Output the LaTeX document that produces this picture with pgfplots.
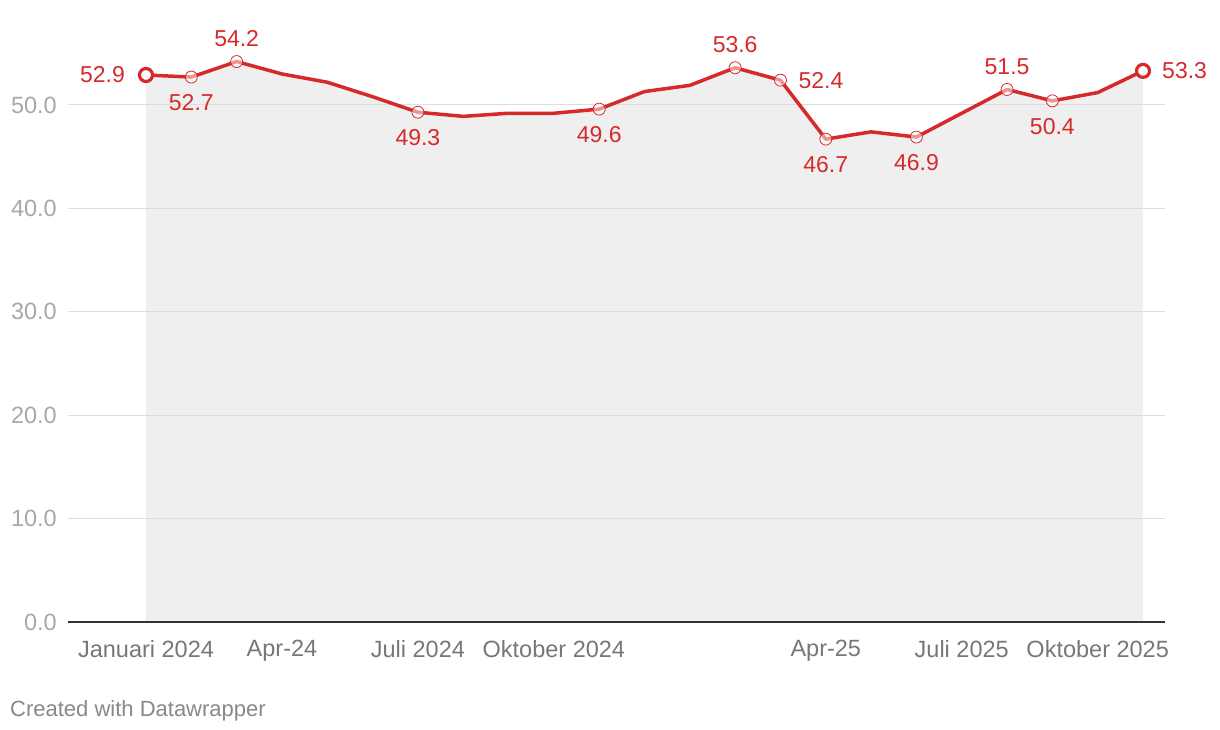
\documentclass[border=0pt]{standalone}
\usepackage{pgfplots}
\pgfplotsset{compat=1.18}
\usepackage{fontspec}
\setmainfont{Liberation Sans}

\definecolor{dwred}{RGB}{214,42,42}
\definecolor{dwfill}{HTML}{EFEFEF}
\definecolor{dwgrid}{HTML}{DDDDDD}
\definecolor{dwaxis}{HTML}{333333}
\definecolor{xlab}{HTML}{777777}
\definecolor{ylab}{HTML}{A8A8A8}
\definecolor{credit}{HTML}{888888}

\tikzset{lbl/.style={text=dwred, inner sep=0pt, font=\fontsize{23}{23}\selectfont}}

\begin{document}
\begin{tikzpicture}
\begin{axis}[
  set layers,
  at={(68pt,-622pt)}, anchor=south west,
  scale only axis,
  width=1097pt, height=589.4pt,
  xmin=-1.721, xmax=22.485,
  ymin=0, ymax=57,
  axis x line*=bottom, axis y line*=left,
  x axis line style={draw=dwaxis, line width=2pt},
  y axis line style={draw=none},
  major tick length=0pt,
  xtick={0,3,6,9,15,18,21},
  xticklabels={Januari 2024, Apr-24, Juli 2024, Oktober 2024, Apr-25, Juli 2025, Oktober 2025},
  ytick={0,10,20,30,40,50},
  ymajorgrids=true,
  grid style={draw=dwgrid, line width=1pt},
  /pgf/number format/assume math mode=true,
  y tick label style={/pgf/number format/fixed, /pgf/number format/fixed zerofill, /pgf/number format/precision=1},
  every tick label/.append style={font=\fontsize{23.5}{23.5}\selectfont},
  xticklabel style={text=xlab, inner sep=0pt, anchor=north, yshift=-18pt},
  yticklabel style={text=ylab, inner sep=0pt, anchor=east, xshift=-11pt},
  clip=false,
]

% area under the line
\addplot [on layer=axis background, fill=dwfill, draw=none] coordinates {
  (0,52.9)(1,52.7)(2,54.2)(3,53.0)(4,52.2)(5,50.8)(6,49.3)(7,48.9)(8,49.2)(9,49.2)
  (10,49.6)(11,51.3)(12,51.9)(13,53.6)(14,52.4)(15,46.7)(16,47.4)(17,46.9)(18,49.2)
  (19,51.5)(20,50.4)(21,51.2)(22,53.3)
} \closedcycle;

% line
\addplot [draw=dwred, line width=3.5pt, line join=round] coordinates {
  (0,52.9)(1,52.7)(2,54.2)(3,53.0)(4,52.2)(5,50.8)(6,49.3)(7,48.9)(8,49.2)(9,49.2)
  (10,49.6)(11,51.3)(12,51.9)(13,53.6)(14,52.4)(15,46.7)(16,47.4)(17,46.9)(18,49.2)
  (19,51.5)(20,50.4)(21,51.2)(22,53.3)
};

% small markers on labelled points
\addplot [only marks, mark=*, mark size=6pt,
  mark options={draw=dwred, line width=0.8pt, fill=white, fill opacity=0.5}]
  coordinates {
  (1,52.7)(2,54.2)(6,49.3)(10,49.6)(13,53.6)(14,52.4)(15,46.7)(17,46.9)(19,51.5)(20,50.4)
};

% end markers
\addplot [only marks, mark=*, mark size=6.5pt,
  mark options={draw=dwred, line width=3.2pt, fill=white}]
  coordinates {(0,52.9)(22,53.3)};

% value labels
\node[lbl, anchor=east, xshift=-21pt] at (axis cs:0,52.9) {52.9};
\node[lbl, anchor=north, yshift=-17.5pt] at (axis cs:1,52.7) {52.7};
\node[lbl, anchor=south, yshift=15pt] at (axis cs:2,54.2) {54.2};
\node[lbl, anchor=north, yshift=-17.5pt] at (axis cs:6,49.3) {49.3};
\node[lbl, anchor=north, yshift=-17.5pt] at (axis cs:10,49.6) {49.6};
\node[lbl, anchor=south, yshift=15pt] at (axis cs:13,53.6) {53.6};
\node[lbl, anchor=west, xshift=18pt] at (axis cs:14,52.4) {52.4};
\node[lbl, anchor=north, yshift=-17.5pt] at (axis cs:15,46.7) {46.7};
\node[lbl, anchor=north, yshift=-17.5pt] at (axis cs:17,46.9) {46.9};
\node[lbl, anchor=south, yshift=15pt] at (axis cs:19,51.5) {51.5};
\node[lbl, anchor=north, yshift=-17.5pt] at (axis cs:20,50.4) {50.4};
\node[lbl, anchor=west, xshift=19pt] at (axis cs:22,53.3) {53.3};

\end{axis}

\node[anchor=base west, inner sep=0pt, text=credit, font=\fontsize{22}{22}\selectfont]
  at (10pt,-716pt) {Created with Datawrapper};
\path (0pt,0pt) rectangle (1220pt,-730pt);
\end{tikzpicture}
\end{document}
